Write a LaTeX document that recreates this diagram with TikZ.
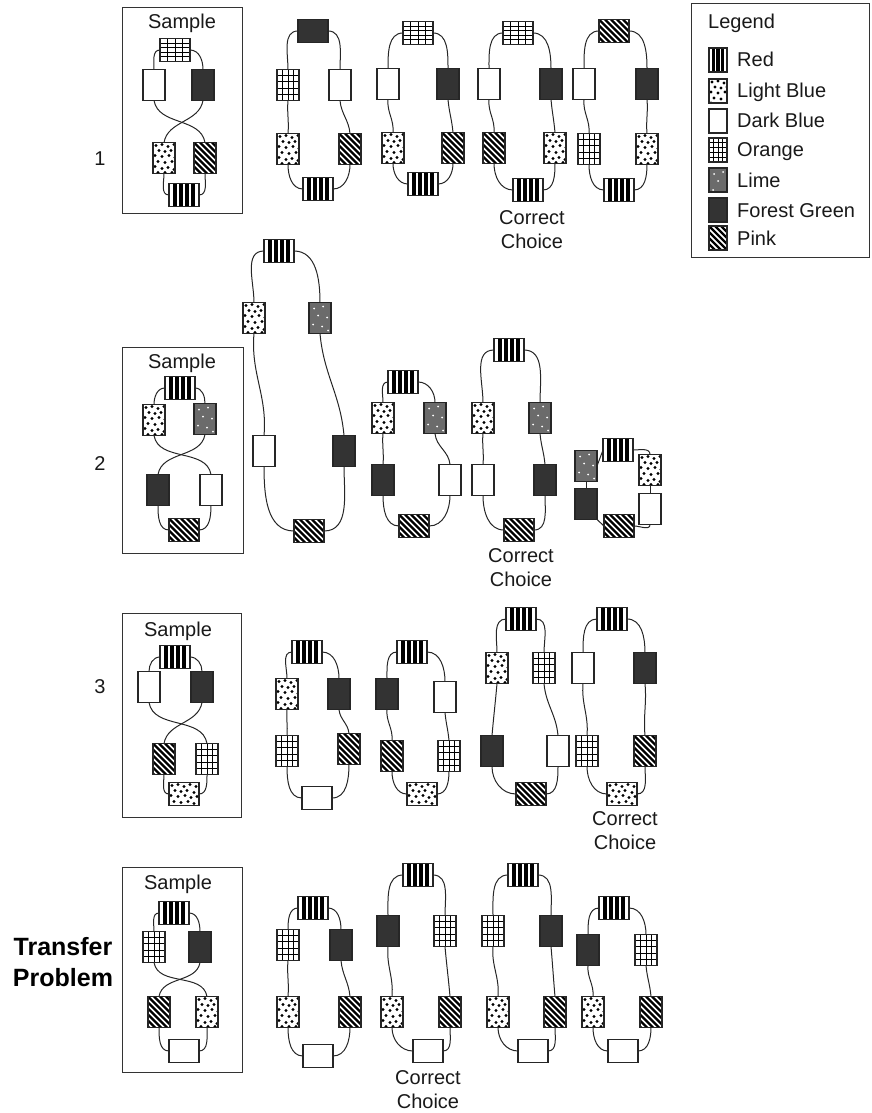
\documentclass[tikz,border=0pt]{standalone}
\usepackage{fontspec}
\setmainfont{Liberation Sans}
\usetikzlibrary{calc}

\tikzset{
  blk/.style={draw=black!85, line width=1.1pt, fill=white, inner sep=0pt, outer sep=0pt},
  tall/.style={minimum width=22pt, minimum height=31pt},
  wide/.style={minimum width=30pt, minimum height=23pt},
  key/.style={minimum width=18pt, minimum height=24pt},
  link/.style={draw=black!85, line width=1pt},
  sbox/.style={draw=black!80, line width=1pt},
  lbl/.style={font=\fontsize{20}{24}\selectfont, text=black!90, inner sep=0pt},
  stripes/.style={path picture={
    \foreach \f in {#1}
      \draw[black, line width=3.8pt] ($(path picture bounding box.south west)!\f!(path picture bounding box.south east)$)
        -- ($(path picture bounding box.north west)!\f!(path picture bounding box.north east)$);}},
  cRed/.style={stripes={0.2,0.4,0.6,0.8}},
  cRedKey/.style={stripes={0.25,0.5,0.75}},
  cOrange/.style={path picture={
    \foreach \f in {0.25,0.5,0.75}
      \draw[black, line width=1pt] ($(path picture bounding box.south west)!\f!(path picture bounding box.south east)$)
        -- ($(path picture bounding box.north west)!\f!(path picture bounding box.north east)$);
    \foreach \f in {0.2,0.4,0.6,0.8}
      \draw[black, line width=1pt] ($(path picture bounding box.south west)!\f!(path picture bounding box.north west)$)
        -- ($(path picture bounding box.south east)!\f!(path picture bounding box.north east)$);}},
  cPink/.style={path picture={
    \foreach \d in {-42,-36,...,32}
      \draw[black, line width=2.3pt] ($(path picture bounding box.north west)+(\d,0)$) -- ++(45,45);}},
  cLBlue/.style={path picture={
    \foreach \u/\v in {3/3,9/2,15/4,21/2,27/4,6/8,12/9,18/8,25/10,2/13,9/14,16/13,22/15,28/14,
                       5/19,12/20,19/19,25/21,2/24,9/26,15/25,21/27,27/26,5/30,12/30,19/30,25/30}
      \fill[black] ($(path picture bounding box.north west)+(\u,\v)$) circle (1.7pt);}},
  cLime/.style={fill=black!58, path picture={
    \foreach \u/\v in {5/6,14/4,9/13,18/15,4/22,13/24,19/28,25/8,26/20}
      \fill[white] ($(path picture bounding box.north west)+(\u,\v)$) circle (1pt);}},
  cForest/.style={fill=black!80},
  cDBlue/.style={fill=white}
}

\newcommand\ringlinks[1]{%
  \draw[link] (#1-t.west) to[out=180,in=90] (#1-ul.north);
  \draw[link] (#1-t.east) to[out=0,in=90] (#1-ur.north);
  \draw[link] (#1-ul.south) to[out=-95,in=85] (#1-ll.north);
  \draw[link] (#1-ur.south) to[out=-85,in=95] (#1-lr.north);
  \draw[link] (#1-ll.south) to[out=-90,in=180] (#1-b.west);
  \draw[link] (#1-lr.south) to[out=-90,in=0] (#1-b.east);}

\newcommand\samplelinks[1]{%
  \draw[link] (#1-t.west) to[out=180,in=90] (#1-ul.north);
  \draw[link] (#1-t.east) to[out=0,in=90] (#1-ur.north);
  \draw[link] (#1-ul.south) to[out=-80,in=100] (#1-lr.north);
  \draw[link] (#1-ur.south) to[out=-100,in=80] (#1-ll.north);
  \draw[link] (#1-ll.south) to[out=-90,in=180] (#1-b.west);
  \draw[link] (#1-lr.south) to[out=-90,in=0] (#1-b.east);}

\begin{document}
\begin{tikzpicture}[x=1pt,y=-1pt]
  \useasboundingbox (0,0) rectangle (871,1113);

  % legend
  \draw[sbox] (691,4) rectangle (869,257);
  \node[lbl,anchor=base west] (lgd) at (708,29) {Legend};
  \foreach \nm/\st/\txt/\y in {kRed/cRedKey/Red/60, kLBlue/cLBlue/Light Blue/91, kDBlue/cDBlue/Dark Blue/121,
                               kOrange/cOrange/Orange/150, kLime/cLime/Lime/180, kForest/cForest/Forest Green/210,
                               kPink/cPink/Pink/238}
  {
    \node[blk,key,\st] (\nm) at (718,\y) {};
    \node[lbl,anchor=base west] (\nm-txt) at (737,\y+7) {\txt};
  }

  % row labels
  \node[lbl,anchor=base] (n1) at (100,165) {1};
  \node[lbl,anchor=base] (n2) at (100,470) {2};
  \node[lbl,anchor=base] (n3) at (100,693) {3};
  \node[font=\bfseries\fontsize{25}{31}\selectfont, align=center, inner sep=0pt] (xfer) at (63,962) {Transfer\\Problem};

  % sample boxes
  \draw[sbox] (122,8) rectangle (242,213);
  \draw[sbox] (122,347) rectangle (243,553);
  \draw[sbox] (122,613) rectangle (241,817);
  \draw[sbox] (122,867) rectangle (242,1072);
  \node[lbl,anchor=base] (smp1) at (182,29) {Sample};
  \node[lbl,anchor=base] (smp2) at (182,368) {Sample};
  \node[lbl,anchor=base] (smp3) at (178,636) {Sample};
  \node[lbl,anchor=base] (smp4) at (178,889) {Sample};

  % row 1
  \foreach \nm/\st/\sz/\pos in {
      s1-t/cOrange/wide/{175,50}, s1-ul/cDBlue/tall/{154,85}, s1-ur/cForest/tall/{203,85},
      s1-ll/cLBlue/tall/{164,158}, s1-lr/cPink/tall/{205,158}, s1-b/cRed/wide/{184,195},
      r1a-t/cForest/wide/{313,31}, r1a-ul/cOrange/tall/{288,85}, r1a-ur/cDBlue/tall/{340,85},
      r1a-ll/cLBlue/tall/{288,149}, r1a-lr/cPink/tall/{350,149}, r1a-b/cRed/wide/{318,189},
      r1b-t/cOrange/wide/{418,33}, r1b-ul/cDBlue/tall/{388,84}, r1b-ur/cForest/tall/{448,84},
      r1b-ll/cLBlue/tall/{393,148}, r1b-lr/cPink/tall/{453,148}, r1b-b/cRed/wide/{423,184},
      r1c-t/cOrange/wide/{518,33}, r1c-ul/cDBlue/tall/{489,84}, r1c-ur/cForest/tall/{551,84},
      r1c-ll/cPink/tall/{494,148}, r1c-lr/cLBlue/tall/{555,148}, r1c-b/cRed/wide/{528,190},
      r1d-t/cPink/wide/{614,31}, r1d-ul/cDBlue/tall/{584,84}, r1d-ur/cForest/tall/{647,84},
      r1d-ll/cOrange/tall/{589,149}, r1d-lr/cLBlue/tall/{647,149}, r1d-b/cRed/wide/{619,190}}
    \node[blk,\sz,\st] (\nm) at (\pos) {};
  \node[lbl,align=center] (cc1) at (532,230) {Correct\\Choice};

  % row 2
  \foreach \nm/\st/\sz/\pos in {
      s2-t/cRed/wide/{180,388}, s2-ul/cLBlue/tall/{154,420}, s2-ur/cLime/tall/{205,419},
      s2-ll/cForest/tall/{158,490}, s2-lr/cDBlue/tall/{211,490}, s2-b/cPink/wide/{184,530},
      r2a-t/cRed/wide/{279,251}, r2a-ul/cLBlue/tall/{254,318}, r2a-ur/cLime/tall/{320,318},
      r2a-ll/cDBlue/tall/{264,451}, r2a-lr/cForest/tall/{344,451}, r2a-b/cPink/wide/{309,531},
      r2b-t/cRed/wide/{403,382}, r2b-ul/cLBlue/tall/{383,418}, r2b-ur/cLime/tall/{435,418},
      r2b-ll/cForest/tall/{383,480}, r2b-lr/cDBlue/tall/{450,480}, r2b-b/cPink/wide/{414,526},
      r2c-t/cRed/wide/{509,350}, r2c-ul/cLBlue/tall/{483,418}, r2c-ur/cLime/tall/{540,418},
      r2c-ll/cDBlue/tall/{483,480}, r2c-lr/cForest/tall/{545,480}, r2c-b/cPink/wide/{519,530},
      r2d-t/cRed/wide/{618,450}, r2d-ul/cLime/tall/{586,466}, r2d-ur/cLBlue/tall/{650,470},
      r2d-ll/cForest/tall/{586,504}, r2d-lr/cDBlue/tall/{650,509}, r2d-b/cPink/wide/{619,526}}
    \node[blk,\sz,\st] (\nm) at (\pos) {};
  \node[lbl,align=center] (cc2) at (521,568) {Correct\\Choice};

  % row 3
  \foreach \nm/\st/\sz/\pos in {
      s3-t/cRed/wide/{175,657}, s3-ul/cDBlue/tall/{149,687}, s3-ur/cForest/tall/{202,687},
      s3-ll/cPink/tall/{164,759}, s3-lr/cOrange/tall/{207,759}, s3-b/cLBlue/wide/{184,794},
      r3a-t/cRed/wide/{307,652}, r3a-ul/cLBlue/tall/{287,694}, r3a-ur/cForest/tall/{339,694},
      r3a-ll/cOrange/tall/{287,751}, r3a-lr/cPink/tall/{349,749}, r3a-b/cDBlue/wide/{317,798},
      r3b-t/cRed/wide/{412,652}, r3b-ul/cForest/tall/{387,694}, r3b-ur/cDBlue/tall/{445,697},
      r3b-ll/cPink/tall/{392,756}, r3b-lr/cOrange/tall/{449,756}, r3b-b/cLBlue/wide/{422,794},
      r3c-t/cRed/wide/{521,619}, r3c-ul/cLBlue/tall/{497,668}, r3c-ur/cOrange/tall/{544,668},
      r3c-ll/cForest/tall/{492,751}, r3c-lr/cDBlue/tall/{558,751}, r3c-b/cPink/wide/{531,794},
      r3d-t/cRed/wide/{612,619}, r3d-ul/cDBlue/tall/{583,668}, r3d-ur/cForest/tall/{645,668},
      r3d-ll/cOrange/tall/{587,751}, r3d-lr/cPink/tall/{645,751}, r3d-b/cLBlue/wide/{622,794}}
    \node[blk,\sz,\st] (\nm) at (\pos) {};
  \node[lbl,align=center] (cc3) at (625,831) {Correct\\Choice};

  % transfer problem
  \foreach \nm/\st/\sz/\pos in {
      s4-t/cRed/wide/{174,913}, s4-ul/cOrange/tall/{154,947}, s4-ur/cForest/tall/{200,947},
      s4-ll/cPink/tall/{159,1012}, s4-lr/cLBlue/tall/{207,1012}, s4-b/cDBlue/wide/{184,1051},
      r4a-t/cRed/wide/{313,908}, r4a-ul/cOrange/tall/{288,945}, r4a-ur/cForest/tall/{341,945},
      r4a-ll/cLBlue/tall/{288,1012}, r4a-lr/cPink/tall/{350,1012}, r4a-b/cDBlue/wide/{318,1056},
      r4b-t/cRed/wide/{418,875}, r4b-ul/cForest/tall/{388,931}, r4b-ur/cOrange/tall/{445,931},
      r4b-ll/cLBlue/tall/{392,1012}, r4b-lr/cPink/tall/{450,1012}, r4b-b/cDBlue/wide/{428,1051},
      r4c-t/cRed/wide/{523,875}, r4c-ul/cOrange/tall/{493,931}, r4c-ur/cForest/tall/{551,931},
      r4c-ll/cLBlue/tall/{498,1012}, r4c-lr/cPink/tall/{555,1012}, r4c-b/cDBlue/wide/{533,1051},
      r4d-t/cRed/wide/{614,908}, r4d-ul/cForest/tall/{588,950}, r4d-ur/cOrange/tall/{646,950},
      r4d-ll/cLBlue/tall/{593,1012}, r4d-lr/cPink/tall/{651,1012}, r4d-b/cDBlue/wide/{623,1051}}
    \node[blk,\sz,\st] (\nm) at (\pos) {};
  \node[lbl,align=center] (cc4) at (428,1090) {Correct\\Choice};

  % connectors
  \foreach \r in {s1,s2,s3,s4}
    \samplelinks{\r};
  \foreach \r in {r1a,r1b,r1c,r1d,r2a,r2b,r2c,r3a,r3b,r3c,r3d,r4a,r4b,r4c,r4d}
    \ringlinks{\r};
  \draw[link] (r2d-ul.east) -- (r2d-t.west);
  \draw[link] (r2d-t.east) to[out=0,in=90] (r2d-ur.north);
  \draw[link] (r2d-ul.south) -- (r2d-ll.north);
  \draw[link] (r2d-ur.south) -- (r2d-lr.north);
  \draw[link] (r2d-ll.south east) -- (r2d-b.west);
  \draw[link] (r2d-lr.south) to[out=-90,in=0] (r2d-b.east);
\end{tikzpicture}
\end{document}
